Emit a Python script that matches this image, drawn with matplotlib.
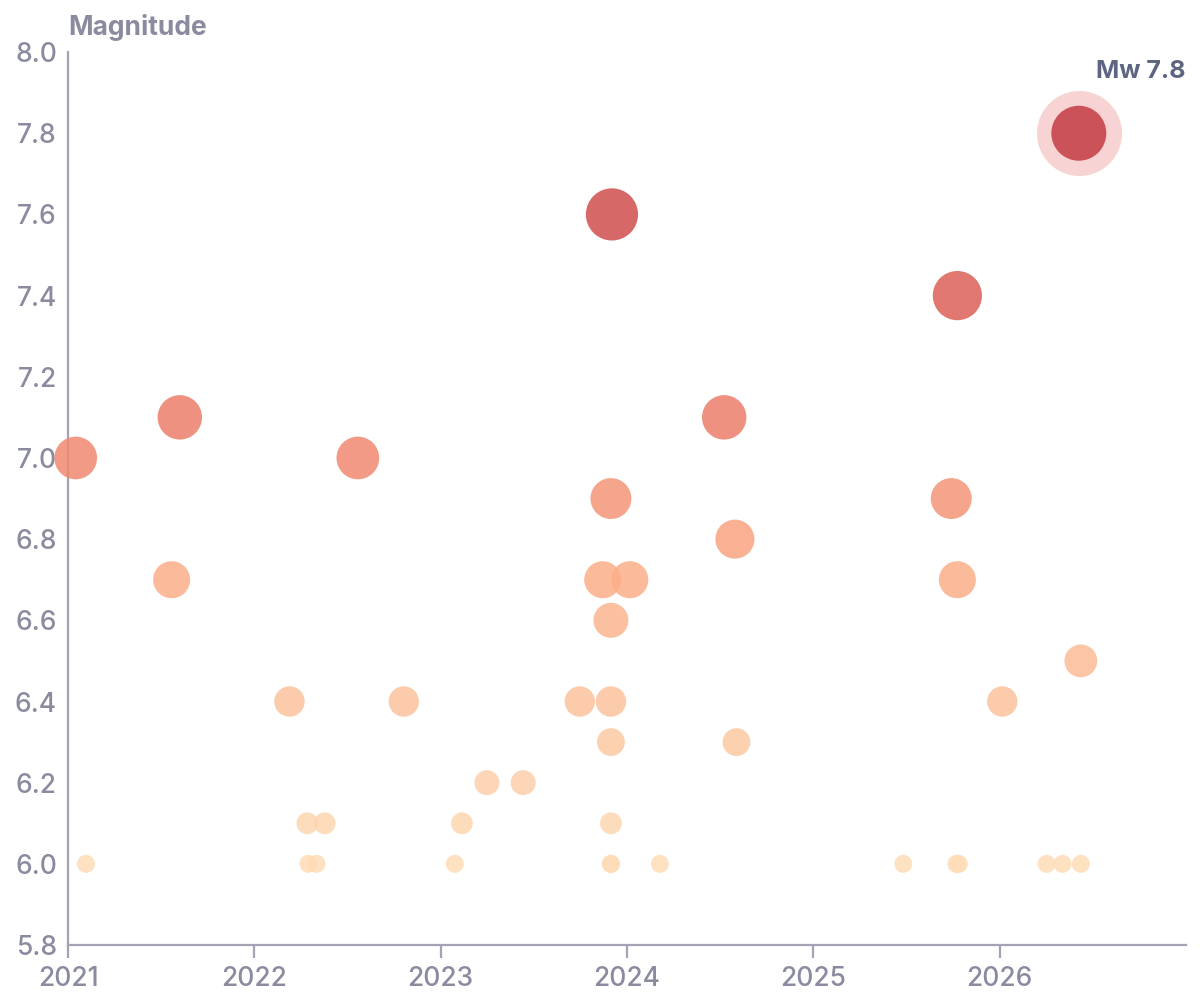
import matplotlib
matplotlib.use("Agg")
import matplotlib.pyplot as plt
import matplotlib.dates as mdates
from matplotlib.colors import LinearSegmentedColormap
import numpy as np
import pandas as pd

# quake catalogue
dates = [
    "2021-01-16", "2021-02-05", "2021-08-08", "2021-07-23",
    "2022-03-11", "2022-04-15", "2022-05-19", "2022-04-17", "2022-05-03",
    "2022-07-23", "2022-10-21",
    "2023-01-29", "2023-02-12", "2023-04-02", "2023-06-12", "2023-10-01",
    "2023-12-01", "2023-12-01", "2023-12-01", "2023-12-01", "2023-12-01",
    "2023-11-15", "2024-01-07", "2023-12-01", "2023-12-01", "2023-12-03",
    "2024-03-06", "2024-07-10", "2024-07-31", "2024-08-03",
    "2025-06-26", "2025-10-08", "2025-10-13", "2025-09-28", "2025-10-10",
    "2025-10-10", "2026-01-06", "2026-04-03", "2026-05-04", "2026-06-09",
    "2026-06-09", "2026-06-05",
]
magnitudes = [
    7.0, 6.0, 7.1, 6.7,
    6.4, 6.1, 6.1, 6.0, 6.0,
    7.0, 6.4,
    6.0, 6.1, 6.2, 6.2, 6.4,
    6.4, 6.3, 6.1, 6.0, 6.0,
    6.7, 6.7, 6.6, 6.9, 7.6,
    6.0, 7.1, 6.8, 6.3,
    6.0, 6.0, 6.0, 6.9, 6.7,
    7.4, 6.4, 6.0, 6.0, 6.0,
    6.5, 7.8,
]
y_ticks = [5.8, 6.0, 6.2, 6.4, 6.6, 6.8, 7.0, 7.2, 7.4, 7.6, 7.8, 8.0]
year_ticks = [2021, 2022, 2023, 2024, 2025, 2026]
highlight_label = "Mw 7.8"

plt.rcParams['font.family'] = ['Inter', 'DejaVu Sans']
axis_grey = "#a3a3b3"
text_grey = "#8b8ba0"

df = pd.DataFrame({"date": pd.to_datetime(dates), "mag": magnitudes})
df = df.sort_values("mag")

cmap = LinearSegmentedColormap.from_list(
    "quake",
    [(0.0, "#fddcb6"), (0.39, "#fbae88"), (0.56, "#f08870"),
     (0.78, "#dc5f58"), (1.0, "#c43c42")])

# area grows linearly with magnitude (diameter in px -> points)
px = 0.72
diam = np.sqrt(324 + 1500 * (df["mag"] - 6.0))
sizes = (diam * px) ** 2

fig = plt.figure(figsize=(12, 10.01), dpi=100)
ax = fig.add_axes([0.0567, 0.0559, 0.9316, 0.8921])

top = df[df["mag"] == df["mag"].max()]
ax.scatter(top["date"], top["mag"], s=(85 * px) ** 2, color="#f7d3d3",
           linewidths=0, clip_on=False, zorder=2)

ax.scatter(df["date"], df["mag"], s=sizes,
           c=cmap((df["mag"] - 6.0) / 1.8), alpha=0.85,
           linewidths=0, clip_on=False, zorder=3)

ax.set_ylim(5.8, 8.0)
ax.set_xlim(pd.Timestamp("2021-01-01"), pd.Timestamp("2027-01-01"))
ax.set_yticks(y_ticks)
ax.set_yticklabels([f"{v:.1f}" for v in y_ticks])
ax.set_xticks([pd.Timestamp(f"{y}-01-01") for y in year_ticks])
ax.xaxis.set_major_formatter(mdates.DateFormatter("%Y"))

for side in ("top", "right"):
    ax.spines[side].set_visible(False)
for side in ("left", "bottom"):
    ax.spines[side].set_color(axis_grey)
    ax.spines[side].set_linewidth(1.6)

ax.tick_params(axis="y", length=0, pad=8, labelsize=19,
               labelcolor=text_grey)
ax.tick_params(axis="x", length=9, width=1.6, color=axis_grey, pad=6,
               labelsize=19, labelcolor=text_grey)
for lab in ax.get_xticklabels() + ax.get_yticklabels():
    lab.set_fontweight("medium")

ax.text(0.0, 1.0 + 25 / 893, "Magnitude", transform=ax.transAxes,
        ha="left", va="center", fontsize=19, fontweight="bold",
        color=text_grey)
ax.text(1.0, 7.952, highlight_label, transform=ax.get_yaxis_transform(),
        ha="right", va="center", fontsize=18, fontweight="bold",
        color="#5e6580")

fig.savefig("out.png", dpi=100, facecolor="white")
